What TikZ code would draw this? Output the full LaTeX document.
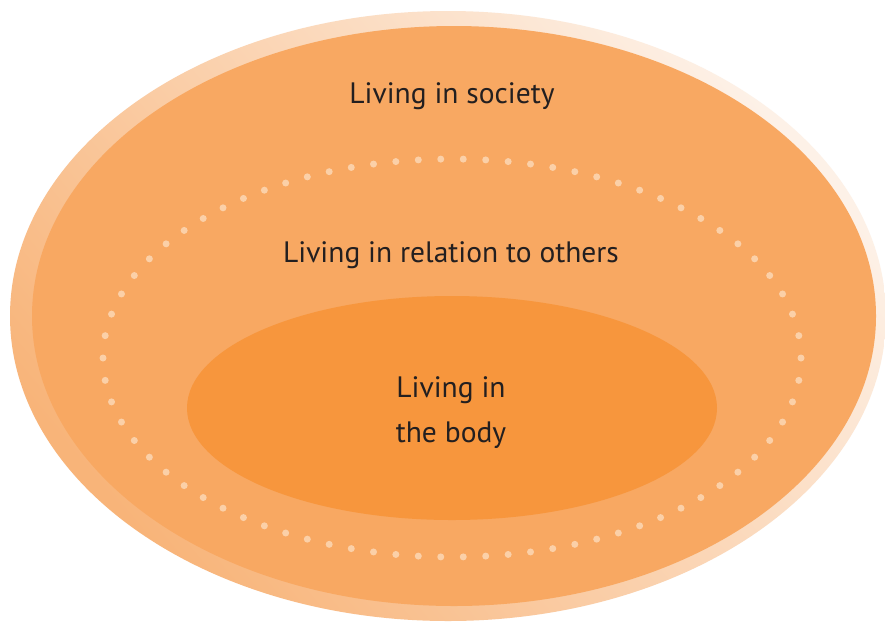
\documentclass[tikz,border=0pt]{standalone}
\usepackage{fontspec}
\setmainfont{PT Sans}
\definecolor{rimdark}{HTML}{F8B479}
\definecolor{rimlight}{HTML}{FDF1E7}
\definecolor{mainfill}{HTML}{F8A862}
\definecolor{bodyfill}{HTML}{F7963D}
\definecolor{dotcol}{HTML}{FBD0A8}
\definecolor{txt}{HTML}{231F20}
\tikzset{
  label/.style={text=txt, font=\fontsize{29.5}{45}\selectfont, inner sep=0pt, anchor=base, align=center},
  dotring/.style={draw=dotcol, line width=7pt, line cap=round, dash pattern=on 0pt off 22.49pt}
}
\begin{document}
\begin{tikzpicture}[x=1pt,y=1pt]
\useasboundingbox (0,0) rectangle (885,-622);
\fill[white] (0,0) rectangle (885,-622);
% outer rim
\shade[bottom color=rimdark, top color=rimlight, shading angle=-50] (448,-316) ellipse [x radius=438, y radius=305];
% main area
\fill[mainfill] (454,-316) ellipse [x radius=422, y radius=290];
% dotted ring
\draw[dotring] (452,-358) ellipse [x radius=349, y radius=199];
% body
\fill[bodyfill] (452,-408) ellipse [x radius=265, y radius=112];
% labels
\node[label] (society) at (452,-103) {Living in society};
\node[label] (others) at (451,-262) {Living in relation to others};
\node[label] (body1) at (451,-397) {Living in};
\node[label] (body2) at (451,-442) {the body};
\end{tikzpicture}
\end{document}
